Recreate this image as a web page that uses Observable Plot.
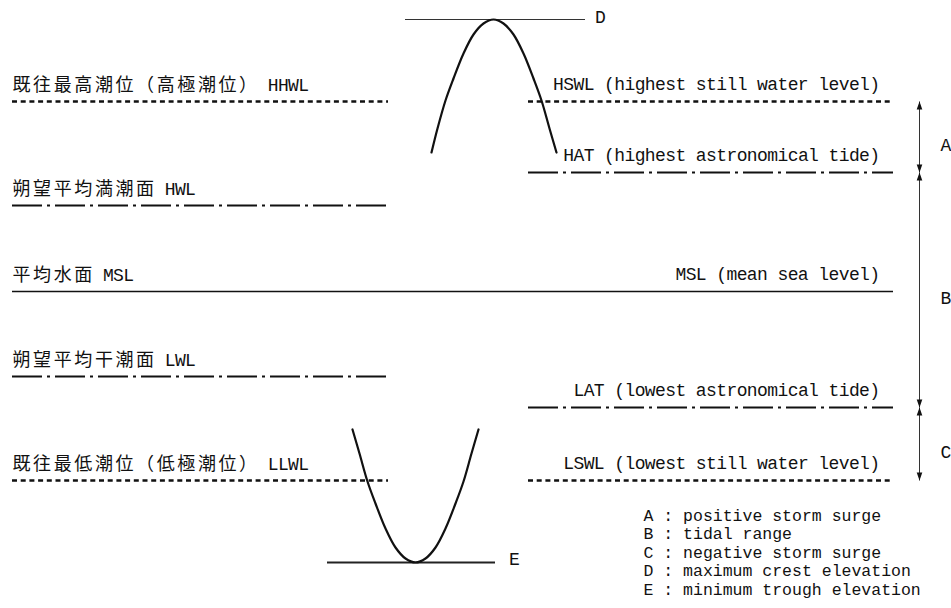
<!DOCTYPE html>
<html>
<head>
<meta charset="utf-8">
<script src="https://cdn.jsdelivr.net/npm/d3@7"></script>
<script src="https://cdn.jsdelivr.net/npm/@observablehq/plot@0.6"></script>
<style>
  body { margin: 0; background: #fff; }
  #chart svg { background: #fff; display: block; }
  g[aria-description="cjk"] text { letter-spacing: 2.6px; }
  g[aria-description="latin"] text { letter-spacing: -0.6px; }
</style>
</head>
<body>
<div id="chart"></div>
<script>
// ---- data (elevation in diagram units, MSL = 0) ----
const leftNames = ["既往最高潮位（高極潮位）", "朔望平均満潮面", "平均水面", "朔望平均干潮面", "既往最低潮位（低極潮位）"];
const leftCodes = ["HHWL", "HWL", "MSL", "LWL", "LLWL"];
const leftLevels = [190, 86, 0, -85, -189];
const leftStyles = ["dotted", "dashdot", "solid", "dashdot", "dotted"];

const rightLabels = ["HSWL (highest still water level)", "HAT (highest astronomical tide)", "MSL (mean sea level)", "LAT (lowest astronomical tide)", "LSWL (lowest still water level)"];
const rightLevels = [190, 119, 0, -116, -189];
const rightStyles = ["dotted", "dashdot", "solid", "dashdot", "dotted"];

const crestLevel = 272;   // D
const troughLevel = -271; // E

const crestX = [431, 437, 445, 453, 463, 473, 483, 493, 503, 513, 523, 533, 541, 549, 556];
const crestY = [139, 163, 191, 213, 238, 257, 268, 272, 268, 257, 238, 213, 191, 163, 139];
const troughX = [352, 359, 367, 375, 385, 395, 405, 415, 425, 435, 445, 455, 463, 471, 478];
const troughY = [-138, -162, -190, -212, -237, -256, -267, -271, -267, -256, -237, -212, -190, -162, -138];

const rangeLetters = ["A", "B", "C"];
const rangeFrom = [190, 119, -116];
const rangeTo = [119, -116, -189];

const legendKeys = ["A", "B", "C", "D", "E"];
const legendTexts = ["positive storm surge", "tidal range", "negative storm surge", "maximum crest elevation", "minimum trough elevation"];

// ---- layout ----
const W = 951, H = 608;
const leftSpan = [12, 388], rightSpan = [528, 893];
const arrowX = 919;
const ink = "#111";
const latin = "'Liberation Mono', 'DejaVu Sans Mono', monospace";
const cjk = "'Noto Sans CJK JP', 'Noto Sans CJK SC', sans-serif";

const segs = [];
leftLevels.forEach((lv, i) => {
  if (leftStyles[i] === "solid") segs.push({y: lv, x1: leftSpan[0], x2: rightSpan[1], style: "solid"});
  else segs.push({y: lv, x1: leftSpan[0], x2: leftSpan[1], style: leftStyles[i]});
});
rightLevels.forEach((lv, i) => {
  if (rightStyles[i] !== "solid") segs.push({y: lv, x1: rightSpan[0], x2: rightSpan[1], style: rightStyles[i]});
});

const leftRows = leftNames.map((n, i) => ({name: n, code: leftCodes[i], level: leftLevels[i], codeX: leftSpan[0] + n.length * 20.6 + 8}));
const rightRows = rightLabels.map((t, i) => ({text: t, level: rightLevels[i]}));
const crestRows = crestX.map((x, i) => ({x, y: crestY[i]}));
const troughRows = troughX.map((x, i) => ({x, y: troughY[i]}));
const rangeRows = rangeLetters.map((l, i) => ({letter: l, from: rangeFrom[i], to: rangeTo[i], mid: (rangeFrom[i] + rangeTo[i]) / 2}));
const legendRows = legendKeys.map((k, i) => ({text: `${k} : ${legendTexts[i]}`, y: -224 - i * 18.5}));

const chart = Plot.plot({
  width: W,
  height: H,
  margin: 0,
  axis: null,
  x: {domain: [0, W]},
  y: {domain: [291 - H, 291]},
  style: {background: "#fff", color: ink},
  marks: [
    Plot.ruleY(segs.filter(s => s.style === "dotted"), {y: "y", x1: "x1", x2: "x2", stroke: ink, strokeWidth: 2.4, strokeDasharray: "5,3.7"}),
    Plot.ruleY(segs.filter(s => s.style === "dashdot"), {y: "y", x1: "x1", x2: "x2", stroke: ink, strokeWidth: 2, strokeDasharray: "30,5,3,5"}),
    Plot.ruleY(segs.filter(s => s.style === "solid"), {y: "y", x1: "x1", x2: "x2", stroke: ink, strokeWidth: 1.6}),
    Plot.ruleY([crestLevel], {y: d => d, x1: 405, x2: 585, stroke: "#333", strokeWidth: 1}),
    Plot.ruleY([troughLevel], {y: d => d, x1: 327, x2: 495, stroke: "#222", strokeWidth: 1.8}),
    Plot.line(crestRows, {x: "x", y: "y", curve: "catmull-rom", stroke: ink, strokeWidth: 2.2}),
    Plot.line(troughRows, {x: "x", y: "y", curve: "catmull-rom", stroke: ink, strokeWidth: 2.2}),
    Plot.link(rangeRows, {x1: arrowX, x2: arrowX, y1: "from", y2: "to", stroke: "#333", strokeWidth: 1}),
    Plot.vector(rangeRows, {x: arrowX, y: "from", length: 8, r: 2.8, shape: "spike", anchor: "end", rotate: 0, fill: ink, stroke: "none"}),
    Plot.vector(rangeRows, {x: arrowX, y: "to", length: 8, r: 2.8, shape: "spike", anchor: "end", rotate: 180, fill: ink, stroke: "none"}),
    Plot.text(leftRows, {x: leftSpan[0], y: "level", text: "name", textAnchor: "start", dy: -16, fontFamily: cjk, fontSize: 18, fill: ink, ariaDescription: "cjk"}),
    Plot.text(leftRows, {x: "codeX", y: "level", text: "code", textAnchor: "start", dy: -16, fontFamily: latin, fontSize: 18, fill: ink, ariaDescription: "latin"}),
    Plot.text(rightRows, {x: 879, y: "level", text: "text", textAnchor: "end", dy: -17, fontFamily: latin, fontSize: 18, fill: ink, ariaDescription: "latin"}),
    Plot.text(rangeRows, {x: 945, y: "mid", text: "letter", dy: 8, fontFamily: latin, fontSize: 18, fill: ink, ariaDescription: "latin"}),
    Plot.text(["D"], {x: 600, y: crestLevel, text: d => d, dy: -2, fontFamily: latin, fontSize: 18, fill: ink}),
    Plot.text(["E"], {x: 514, y: troughLevel, text: d => d, dy: -3, fontFamily: latin, fontSize: 18, fill: ink}),
    Plot.text(legendRows, {x: 643, y: "y", text: "text", textAnchor: "start", fontFamily: latin, fontSize: 16.5, fill: ink})
  ]
});
document.getElementById("chart").appendChild(chart);
</script>
</body>
</html>
